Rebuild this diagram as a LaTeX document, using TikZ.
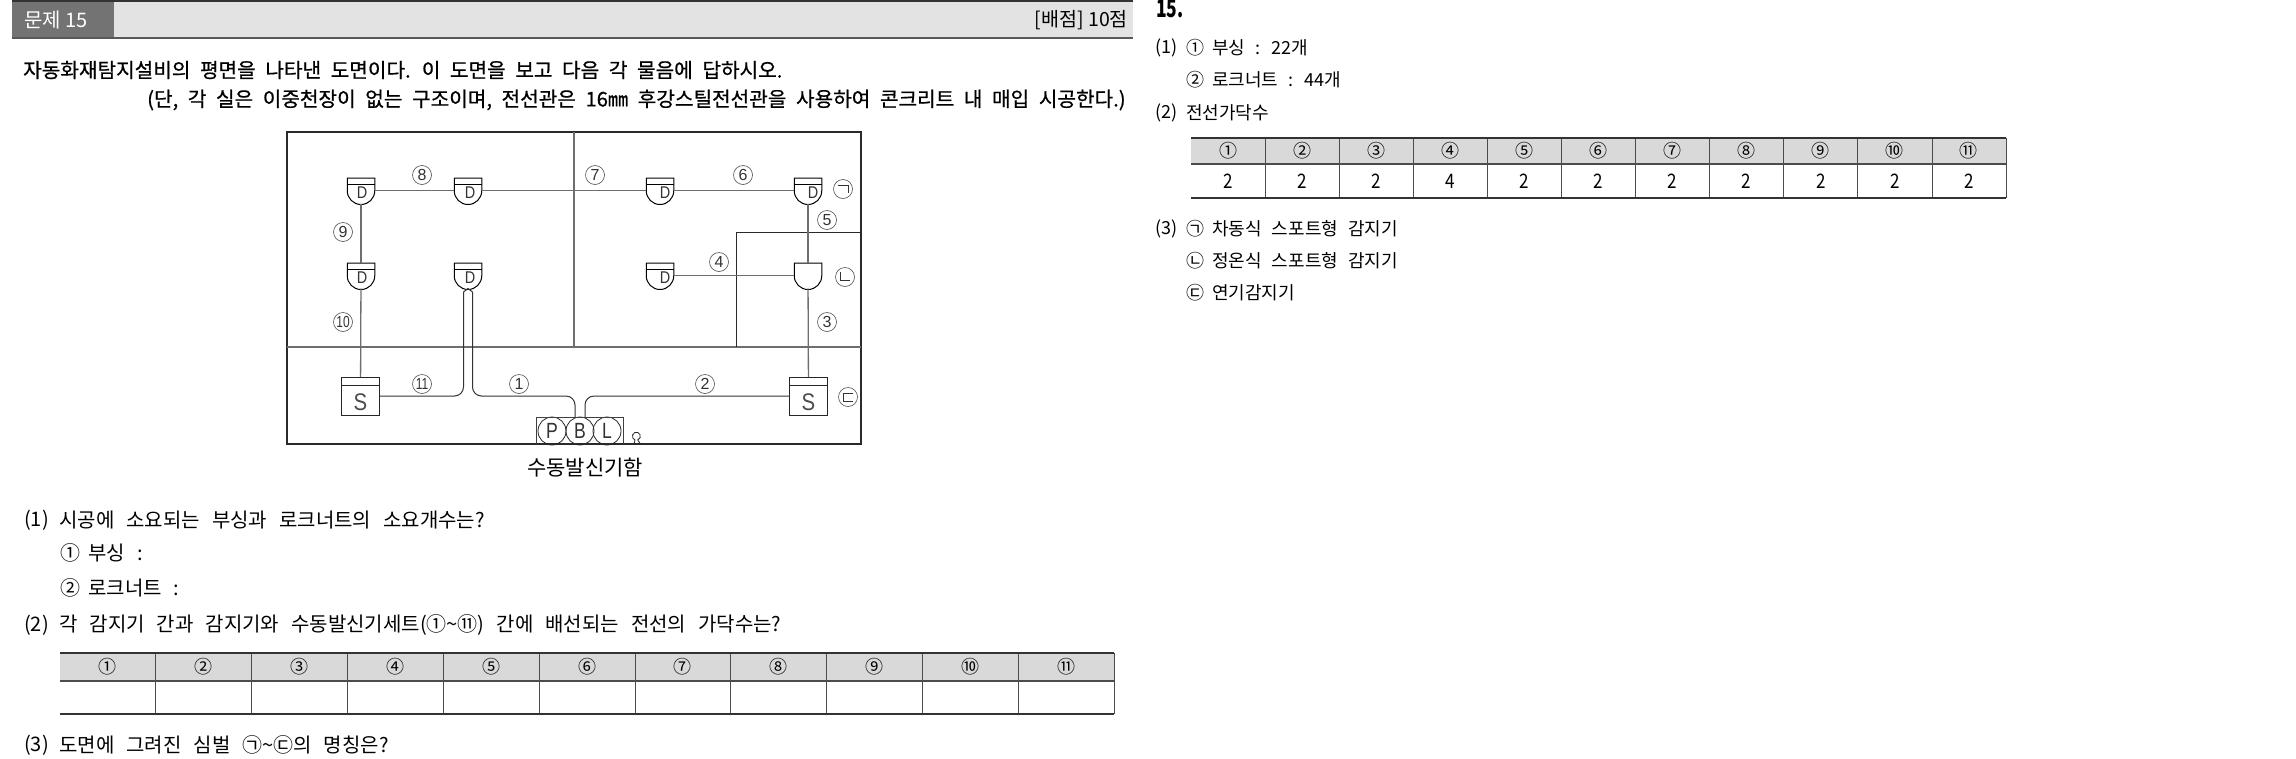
\documentclass[tikz,border=0pt]{standalone}
\usepackage{fontspec}
\setmainfont{Noto Sans CJK KR}
\newfontfamily\stemfam[FakeBold=0.7]{Noto Sans CJK KR}
\newfontfamily\planfont{Liberation Sans}
\usetikzlibrary{positioning}
\definecolor{wirecol}{HTML}{6E6E6E}
\definecolor{framecol}{HTML}{2A2A2A}
\newcommand{\stemfont}{\stemfam\fontsize{20.2}{20.2}\selectfont\spaceskip=9.6pt\relax}
\newcommand{\askfont}{\fontsize{20}{20}\selectfont\spaceskip=12pt\relax}
\newcommand{\ansfont}{\fontsize{18}{18}\selectfont\spaceskip=10pt\relax}
\newcommand{\tildechar}{\char"007E\relax}
\tikzset{
  x=1pt,y=1pt,
  stemtext/.style={inner sep=0pt,anchor=west,font=\stemfont},
  asktext/.style={inner sep=0pt,anchor=west,font=\askfont},
  anstext/.style={inner sep=0pt,anchor=west,font=\ansfont},
  wire/.style={wirecol,line width=1.3pt},
  numring/.style={draw=black!70,circle,line width=0.6pt,minimum size=19pt,inner sep=0pt,text=black!80,font=\planfont\fontsize{16}{16}\selectfont},
  detbox/.style={minimum width=27.5pt,minimum height=25.5pt,inner sep=0pt,outer sep=0pt,text=black!80,font=\planfont\fontsize{17}{17}\selectfont},
  srcbox/.style={draw=black!85,line width=1pt,minimum width=38pt,minimum height=38pt,inner sep=0pt,outer sep=0pt},
  pbl/.style={draw=black!85,circle,line width=0.8pt,minimum size=28pt,inner sep=0pt,text=black!80,font=\planfont\fontsize{22}{22}\selectfont},
  headcell/.style={inner sep=0pt,font=\fontsize{18}{18}\selectfont},
}
% detector: name, position, letter shift, text
\newcommand{\spotdet}[4]{
  \node[detbox] (#1) at (#2) {};
  \node[inner sep=0pt,text=black!80,font=\planfont\fontsize{17}{17}\selectfont] (#1t) at ([xshift=#3pt,yshift=-2pt]#1.center) {\scalebox{0.85}[1]{#4}};
  \draw[black,line width=1pt] (#1.east) -- (#1.north east) -- (#1.north west) -- (#1.west) arc[start angle=180,end angle=360,radius=13.75];
}
% answer table: name, left, top, header bottom, bottom, right
\newcommand{\gridtable}[6]{
  \pgfmathsetmacro{\cellw}{(#6-#2)/11}
  \fill[black!15] (#2,#3) rectangle (#6,#4);
  \foreach \n [count=\i from 0] in {①,②,③,④,⑤,⑥,⑦,⑧,⑨,⑩,⑪}{
    \node[headcell] (#1h\i) at ({#2+(\i+0.5)*\cellw},{(#3+#4)/2}) {\n};
    \ifnum\i>0
      \draw[black!70,line width=0.8pt] ({#2+\i*\cellw},#3) -- ({#2+\i*\cellw},#5);
    \fi
  }
  \draw[black!70,line width=0.8pt] (#6,#3) -- (#6,#5);
  \draw[black!80,line width=1.3pt] (#2,#3) -- (#6,#3);
  \draw[black!70,line width=1.8pt] (#2,#4) -- (#6,#4);
  \draw[black!80,line width=1.2pt] (#2,#5) -- (#6,#5);
}
\begin{document}
\begin{tikzpicture}
  \useasboundingbox (0,0) rectangle (2296,-758);

  % header bar
  \fill[black!11] (12,-1) rectangle (1133,-38);
  \fill[black!55] (12,-1) rectangle (114,-38);
  \draw[black!80,line width=1.2pt] (12,-1) -- (1133,-1);
  \draw[black!65,line width=1.6pt] (12,-38) -- (1133,-38);
  \node[stemtext,white,font=\fontsize{20}{20}\selectfont] (qno) at (24,-20) {문제 15};
  \node[inner sep=0pt,anchor=east,font=\fontsize{19.5}{19.5}\selectfont] (points) at (1128,-20) {[배점] 10점};

  \node[stemtext] (stem1) at (23,-70) {자동화재탐지설비의 평면을 나타낸 도면이다. 이 도면을 보고 다음 각 물음에 답하시오.};
  \node[stemtext] (stem2) at (147,-100) {(단, 각 실은 이중천장이 없는 구조이며, 전선관은 16㎜ 후강스틸전선관을 사용하여 콘크리트 내 매입 시공한다.)};

  % plan
  \draw[framecol,line width=1.5pt] (287,-132) rectangle (861,-444);
  \draw[wire] (287,-347) -- (861,-347);
  \draw[wire] (574,-132) -- (574,-347);
  \draw[framecol,line width=0.9pt] (861,-232) -- (736,-232) -- (736,-347);

  \spotdet{da}{361,-190.75}{1}{D}
  \spotdet{db}{468,-190.75}{2}{D}
  \spotdet{dc}{660,-190.75}{5}{D}
  \spotdet{dd}{808,-190.75}{5}{D}
  \spotdet{de}{361,-275.75}{1}{D}
  \spotdet{df}{468,-275.75}{2}{D}
  \spotdet{dg}{660,-275.75}{5}{D}
  \spotdet{dh}{808,-275.75}{0}{}

  % inner line of the double-ring detectors
  \foreach \d in {da,db,dc,dd,de,df,dg}{
    \draw[black,line width=0.8pt] ([yshift=-6pt]\d.north west) -- ([yshift=-6pt]\d.north east);
  }

  \node[srcbox] (sa) at (360.5,-396) {};
  \node[srcbox] (sb) at (808.5,-396) {};
  \foreach \s in {sa,sb}{
    \draw[black!85,line width=0.8pt] ([yshift=-8pt]\s.north west) -- ([yshift=-8pt]\s.north east);
    \node[text=black!70,font=\planfont\fontsize{24}{24}\selectfont,inner sep=0pt] (\s t) at ([yshift=-6pt]\s.center) {\scalebox{0.85}[1]{S}};
  }

  \node[pbl] (pp) at (552,-431) {\scalebox{0.8}[1]{P}};
  \node[pbl] (pb) at (580,-431) {\scalebox{0.8}[1]{B}};
  \node[pbl] (pl) at (607,-431) {\scalebox{0.8}[1]{L}};
  \draw[black!75,line width=0.8pt] (536,-444) |- (623,-417) -- (623,-444);
  \draw[black!85,line width=0.8pt] (634,-444) -- (635,-440) arc[start angle=250,end angle=-70,radius=4] -- (640.5,-444);

  \draw[wire] (da) -- (db);
  \draw[wire] (db) -- (dc);
  \draw[wire] (dc) -- (dd);
  \draw[wire] (dg) -- (dh);
  \draw[wire] (dd) -- (dh);
  \draw[wire] (da) -- (de);
  \draw[wire] (de) -- (sa);
  \draw[wire] (dh) -- (sb);
  \draw[black!80,line width=1pt,rounded corners=9pt] (sa.east) -- (463.5,-396) -- (463.5,-292);
  \draw[black!80,line width=1pt] (463.5,-292) -- (df.south);
  \draw[black!80,line width=1pt] (df.south) -- (472.5,-292);
  \draw[black!80,line width=1pt,rounded corners=9pt] (472.5,-292) -- (472.5,-396) -- (575,-396) -- (575,-418);
  \draw[black!80,line width=1pt,rounded corners=9pt] (sb.west) -- (585,-396) -- (585,-418);

  \foreach \n/\pos in {8/{422,-175},9/{343,-232},7/{595,-175},6/{743,-175},5/{827,-220},4/{719,-262},3/{827,-322},1/{519,-384},2/{705,-384}}{
    \node[numring] (n\n) at (\pos) {\n};
  }
  \foreach \n/\pos in {10/{343,-322},11/{422,-384}}{
    \node[numring] (n\n) at (\pos) {\scalebox{0.75}[1]{\n}};
  }
  \node[numring] (ka) at (843,-189) {};
  \draw[black!80,line width=0.9pt] ([xshift=-5pt,yshift=4pt]ka.center) -- ([xshift=5pt,yshift=4pt]ka.center) -- ([xshift=5pt,yshift=-4pt]ka.center);
  \node[numring] (kb) at (845,-277) {};
  \draw[black!80,line width=0.9pt] ([xshift=-5pt,yshift=5pt]kb.center) -- ([xshift=-5pt,yshift=-3pt]kb.center) -- ([xshift=5pt,yshift=-3pt]kb.center);
  \node[numring] (kc) at (848,-397) {};
  \draw[black!80,line width=0.9pt] ([xshift=5pt,yshift=4pt]kc.center) -- ([xshift=-5pt,yshift=4pt]kc.center) -- ([xshift=-5pt,yshift=-4pt]kc.center) -- ([xshift=5pt,yshift=-4pt]kc.center);

  \node[inner sep=0pt,font=\fontsize{21}{21}\selectfont] (boxcap) at (585,-468) {수동발신기함};

  % questions
  \node[asktext] (q1n) at (24,-520) {(1)};
  \node[asktext] (q1) at (59,-520) {시공에 소요되는 부싱과 로크너트의 소요개수는?};
  \node[asktext] (q1a) at (60,-553) {①};
  \node[asktext] (q1at) at (88,-553) {부싱 :};
  \node[asktext] (q1b) at (60,-588) {②};
  \node[asktext] (q1bt) at (88,-588) {로크너트 :};
  \node[asktext] (q2n) at (24,-625) {(2)};
  \node[asktext] (q2) at (59,-625) {각 감지기 간과 감지기와 수동발신기세트(①\tildechar⑪) 간에 배선되는 전선의 가닥수는?};
  \gridtable{qt}{60}{-653}{-681}{-714}{1114}
  \node[asktext] (q3n) at (24,-745) {(3)};
  \node[asktext] (q3) at (59,-745) {도면에 그려진 심벌 ㉠\tildechar㉢의 명칭은?};

  % answers
  \node[inner sep=0pt,anchor=west,font=\bfseries\fontsize{25}{25}\selectfont] (ahead) at (1156,-9) {\scalebox{0.7}[1]{15.}};
  \node[anstext] (a1n) at (1155,-48) {(1)};
  \node[anstext] (a1) at (1186,-48) {①};
  \node[anstext] (a1t) at (1212,-48) {부싱 : 22개};
  \node[anstext] (a1b) at (1186,-80) {②};
  \node[anstext] (a1bt) at (1212,-80) {로크너트 : 44개};
  \node[anstext] (a2n) at (1155,-113) {(2)};
  \node[anstext] (a2) at (1186,-113) {전선가닥수};
  \gridtable{at}{1191}{-138}{-164}{-198}{2006}
  \foreach \v [count=\i from 0] in {2,2,2,4,2,2,2,2,2,2,2}{
    \node[headcell,font=\fontsize{20}{20}\selectfont] (av\i) at ({1191+(\i+0.5)*815/11},-181) {\scalebox{0.85}[1]{\v}};
  }
  \node[anstext] (a3n) at (1155,-229) {(3)};
  \node[anstext] (a3) at (1186,-229) {㉠};
  \node[anstext] (a3t) at (1212,-229) {차동식 스포트형 감지기};
  \node[anstext] (a3b) at (1186,-261) {㉡};
  \node[anstext] (a3bt) at (1212,-261) {정온식 스포트형 감지기};
  \node[anstext] (a3c) at (1186,-293) {㉢};
  \node[anstext] (a3ct) at (1212,-293) {연기감지기};
\end{tikzpicture}
\end{document}
